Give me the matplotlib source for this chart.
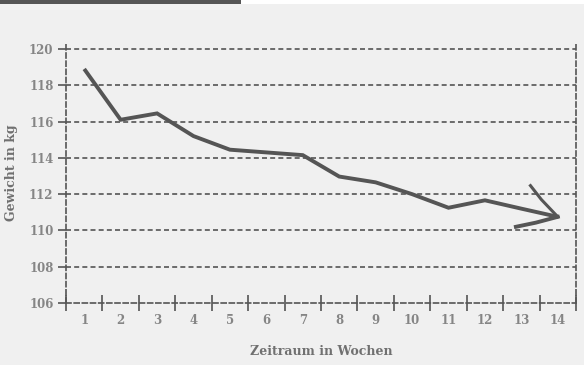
import matplotlib
matplotlib.use("Agg")
import matplotlib.pyplot as plt
from matplotlib.patches import Rectangle
import numpy as np

weeks = list(range(1, 15))
weight = [118.9, 116.1, 116.45, 115.2, 114.45, 114.3, 114.15, 112.97, 112.65, 112.0, 111.25, 111.66, 111.2, 110.75]
y_ticks = [106, 108, 110, 112, 114, 116, 118, 120]
x_label = "Zeitraum in Wochen"
y_label = "Gewicht in kg"

W, H = 584, 365
fig = plt.figure(figsize=(W / 100, H / 100), dpi=100)
fig.patch.set_facecolor("#f0f0f0")
# top strips
fig.patches.append(Rectangle((0, 1 - 4 / H), 241 / W, 4 / H, transform=fig.transFigure,
                             facecolor="#555555", edgecolor="none", zorder=5))
fig.patches.append(Rectangle((241 / W, 1 - 4 / H), 1 - 241 / W, 4 / H, transform=fig.transFigure,
                             facecolor="#ffffff", edgecolor="none", zorder=5))

ylo, yhi = 106, 120.35
left, right = 66 / W, 576 / W
bottom = 1 - 303 / H
top = 1 - (49 - 0.35 * 18.14) / H
ax = fig.add_axes([left, bottom, right - left, top - bottom])
ax.set_facecolor("#f0f0f0")

dash = (0, (3.0, 1.9))
gc = "#555555"
ax.set_xlim(0.5, 14.5)
ax.set_ylim(ylo, yhi)

for yv in y_ticks[1:]:
    ax.axhline(yv, color=gc, lw=1.2, linestyle=dash, zorder=1)

for s in ["left", "right", "bottom"]:
    ax.spines[s].set_linestyle(dash)
    ax.spines[s].set_color(gc)
    ax.spines[s].set_linewidth(1.2)
ax.spines["top"].set_visible(False)

ax.plot(weeks, weight, color="#555555", lw=2.8, solid_capstyle="butt", solid_joinstyle="miter", zorder=3)

# hand-drawn arrow head at the end of the line
xe, ye = weeks[-1], weight[-1]
ax.plot([xe - 0.75, xe - 0.45, xe], [ye + 1.72, ye + 0.95, ye], color="#555555", lw=2.2, zorder=3)
ax.plot([xe - 1.15, xe - 0.6, xe], [ye - 0.55, ye - 0.32, ye], color="#555555", lw=2.8, zorder=3)

tfont = dict(family="DejaVu Serif", weight="bold", size=8.5)
ax.set_yticks(y_ticks)
ax.set_yticklabels([str(v) for v in y_ticks], color="#858585", **tfont)
ax.tick_params(axis="y", length=6, width=1.2, color=gc, pad=3)

ax.set_xticks(weeks)
ax.set_xticklabels([str(w) for w in weeks], color="#858585", **tfont)
ax.set_xticks(np.arange(0.5, 15, 1.0), minor=True)
ax.tick_params(axis="x", which="major", length=0, pad=8)
ax.tick_params(axis="x", which="minor", length=12, width=1.2, color=gc, direction="inout")

ax.set_xlabel(x_label, color="#707070", family="DejaVu Serif", weight="bold", size=9, labelpad=13)
ax.set_ylabel(y_label, color="#707070", family="DejaVu Serif", weight="bold", size=9)
ax.yaxis.set_label_coords(-(66 - 18) / (right - left) / W, 0.5)

fig.savefig("out.png", dpi=100, facecolor=fig.get_facecolor())
